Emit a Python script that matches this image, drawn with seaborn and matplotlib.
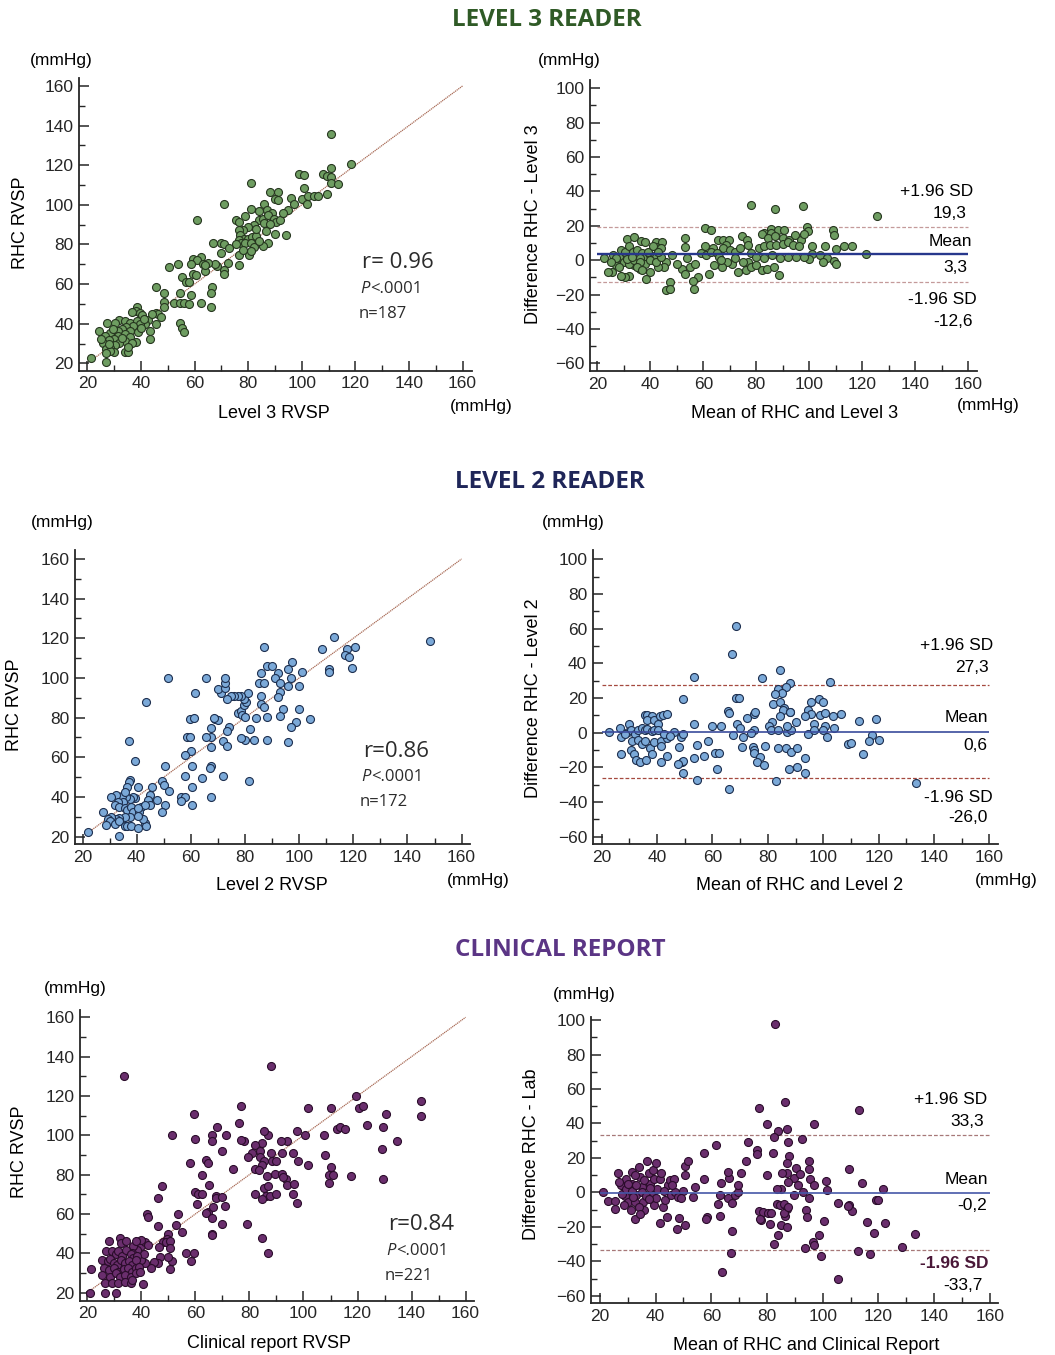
import matplotlib
matplotlib.use('Agg')
import matplotlib.pyplot as plt
from matplotlib.ticker import MultipleLocator
import seaborn as sns

# ---------------- data ----------------
# Level 3 reader vs RHC
l3_x = [111, 118.5, 111, 99, 101, 108, 109.5, 111, 111, 113.5, 81, 101, 88, 91, 90, 91, 96, 100, 102.5, 104.5,
        106, 109.5, 102, 97, 95, 86, 81, 87, 89, 84, 71, 61, 75.5, 76.5, 79, 84, 85.5, 87.5, 89.5, 90.5,
        92, 86, 88, 82, 80, 78, 76.5, 77, 78.5, 80, 81.5, 83, 76.5, 77.5, 79, 81, 75.5, 82, 80.5, 81,
        90, 94, 87.5, 85.5, 70, 71, 67, 70, 76.5, 76.5, 72.5, 71, 71, 68.5, 67.5, 65, 62.5, 59.5, 61, 58.5,
        54, 50.5, 64, 63, 59.5, 60.5, 55.5, 57, 58, 66.5, 66, 66, 62.5, 58.5, 45.5, 48.5, 48.5, 48.5, 54.5, 52.5,
        54.5, 56, 58, 45.5, 46.5, 47.5, 42.5, 45.5, 54.5, 55.5, 56, 41.5, 43.5, 43.5, 38.5, 38, 36.5, 39.5, 40.5, 32,
        27.5, 30.5, 24.5, 34, 36, 38.5, 39.5, 37, 34.5, 33, 31.5, 28.5, 26.5, 36, 39, 34, 31.5, 30, 28, 26,
        36, 38, 34, 32, 30.5, 28.5, 27, 36.5, 34, 35, 30, 28.5, 27, 28, 27, 21.5, 25, 33, 35, 29.5,
        40, 41, 44, 64, 73, 83, 86.5, 93, 84, 78]
l3_rhc = [135.5, 120.5, 118.5, 115.5, 115, 115.5, 114.5, 114, 111, 110.5, 111, 108.5, 106.5, 106.5, 103, 102.5, 103.5, 103, 104.5, 104.5,
          104.5, 105.5, 100.5, 100.5, 97.5, 100.5, 98, 97.5, 96, 97, 100.5, 92.5, 92.5, 91.5, 94.5, 92.5, 93, 95, 93, 91.5,
          92.5, 91, 90.5, 90, 89, 87.5, 87.5, 85, 83, 83, 84, 84.5, 82.5, 80.5, 80.5, 80.5, 80, 78.5, 74.5, 76.5,
          85.5, 85, 80.5, 79, 80.5, 80, 80.5, 75.5, 74.5, 69.5, 70.5, 67, 65, 69, 70, 70.5, 73.5, 72.5, 72, 70,
          70, 68.5, 66.5, 70, 65, 64.5, 63.5, 61, 61, 58.5, 55.5, 48.5, 50.5, 54.5, 58.5, 55.5, 51, 48.5, 55.5, 50.5,
          50.5, 50.5, 50, 45.5, 45, 43.5, 42, 40, 40.5, 38, 36, 40, 36.5, 32.5, 48.5, 46.5, 46, 45.5, 44.5, 42,
          40.5, 40.5, 36.5, 41.5, 40.5, 41.5, 40, 39, 38.5, 37.5, 36.5, 35.5, 34, 36.5, 36, 35, 34, 32.5, 32, 30.5,
          33.5, 31, 31.5, 30.5, 29.5, 28, 27, 30.5, 25.5, 25.5, 25.5, 26, 25, 30, 20.5, 22.5, 32.5, 33, 28.5, 37.5,
          38, 42.5, 45, 69.5, 78, 88, 87, 96, 82, 77]

# Bland-Altman, level 3
ba3_mean = [78, 87, 97.5, 125.5, 60.5, 63, 85.5, 88, 90.5, 99, 99.5, 109, 109.5, 83, 85.5, 82, 84.5, 87, 90, 92.5,
            94.5, 97, 98, 74.5, 76.5, 53, 53, 31, 34, 36.5, 38, 42, 44.5, 42, 44, 60.5, 63.5, 65.5, 67.5, 69.5,
            68.5, 67.5, 70, 72, 74, 77, 78, 81, 83, 85, 87.5, 90, 92, 94, 96, 101, 106, 113, 116, 110,
            101, 104, 106.5, 109.5, 110, 105, 100, 98, 121.5, 95, 92, 89, 86, 83, 80, 77, 75, 73, 76, 78,
            80, 82, 84, 86.5, 88.5, 71, 69, 67, 64, 62, 58, 56, 56.5, 55, 52, 53, 50, 48, 46, 45,
            47.5, 46, 47.5, 43, 41, 40, 38.5, 36, 34, 32, 30.5, 29, 27, 25.5, 24, 22.5, 26, 28, 29, 30.5,
            32, 33.5, 35, 37, 38.5, 40, 42, 30, 32, 34, 36, 38, 40, 42, 44, 36, 28, 31, 33, 35,
            37, 39, 41, 43, 27, 25, 54, 59, 61, 63, 65, 66, 57, 66.5, 72]
ba3_diff = [32, 30, 31.5, 25.5, 18.5, 17.5, 18, 17.5, 17.5, 19.5, 17, 17.5, 14.5, 16, 16, 15, 13, 14, 13, 12,
            14.5, 12, 15, 14, 11.5, 13, 7.5, 12.5, 13.5, 11, 10.5, 10.5, 10.5, 7.5, 7, 8.5, 7, 12, 12, 11.5,
            9, 7, 6, 5, 7, 9, 4, 7, 8, 9, 9, 9.5, 10.5, 9, 8, 8, 8.5, 8.5, 8.5, 6.5,
            3.5, 3, 1, -0.5, -2, -1, 0.5, 2, 3.5, 2, 2, 1, 3, 1, 2, -1, -1, -7, -6, -4,
            -3, -6, -5, -4, -8.5, -2, -1, -4, -3, -8, -10, -12, -17, -4, -5, -8, -2, 3, -1, -4,
            -12.5, -17.5, -17, -4, 0, -7, -11, -5, -3, -9, -10, -9, -3, -7, -7, 1, 3, 2, 6, 4.5,
            8, 5, 6, 4, 2, 3, 2, -1, -2, 0, 1, -2, 0, -1, 2, -1, -4, 0.5, 2, -4,
            -6, 5, 8, 5, 1, -1, 1, 4, 3, 5, 4, 2, -2, 0, 1]

# Level 2 reader vs RHC
l2_x = [148.5, 113, 108.5, 117.5, 120.5, 117, 118.5, 119.5, 111, 111, 87, 88, 90, 97.5, 96, 101, 86, 92, 91, 97,
        85, 87, 93, 96, 100, 93, 92, 86, 86, 87, 94, 100, 88, 93, 99, 104, 97, 96, 88, 83.5,
        80, 78.5, 82, 84, 77.5, 78.5, 79, 80, 79.5, 80.5, 79.5, 81, 78.5, 77.5, 76, 75, 73.5, 71, 70, 72.5,
        72.5, 72.5, 65.5, 61.5, 51.5, 43.5, 69, 70, 68.5, 59.5, 61, 67.5, 74, 73.5, 72, 73.5, 67.5, 67.5, 65.5, 58.5,
        59.5, 60, 58, 37, 39.5, 50.5, 60.5, 67.5, 67, 72, 64, 58, 81.5, 60.5, 49.5, 50, 52, 45.5, 40.5, 37.5,
        37, 36.5, 67.5, 56.5, 58, 56.5, 60.5, 50.5, 49.5, 47.5, 45, 44, 45, 39.5, 38.5, 37.5, 36, 34.5, 32.5, 30.5,
        35.5, 35, 33, 32, 33.5, 35.5, 36.5, 38, 38.5, 37.5, 35.5, 33.5, 32.5, 30.5, 29.5, 27.5, 30, 28.5, 32, 33.5,
        35.5, 36.5, 38, 40.5, 43, 43.5, 42.5, 41.5, 43, 41, 40.5, 40.5, 22, 33.5]
l2_rhc = [118.5, 120.5, 114.5, 114.5, 115.5, 111.5, 110.5, 105, 104.5, 103, 115.5, 106, 106, 108, 104.5, 103, 102.5, 102.5, 100, 100,
          97.5, 97.5, 97.5, 96, 96, 93, 90.5, 91, 87, 85.5, 84.5, 84.5, 80.5, 81, 78, 79.5, 75.5, 67.5, 68.5, 68.5,
          68.5, 69.5, 74.5, 80, 82.5, 83.5, 81.5, 80.5, 86.5, 88, 89.5, 92.5, 91, 91, 91, 91, 89.5, 92.5, 94.5, 95,
          97.5, 100, 100, 92.5, 100, 88, 79.5, 79, 80, 79.5, 80, 75, 75.5, 73.5, 68, 65.5, 65, 70, 70, 70,
          70, 63, 61, 68, 58, 55.5, 55.5, 55.5, 54.5, 50.5, 49.5, 50.5, 48, 45, 48, 46, 43, 45, 45, 48.5,
          47.5, 45, 40, 40, 40, 38, 36, 36, 32.5, 38.5, 41, 38.5, 36, 39.5, 40, 39, 40, 40.5, 41, 40,
          42.5, 37.5, 37.5, 36, 35, 34.5, 33.5, 35, 32.5, 30, 30, 29.5, 29, 30, 29, 32.5, 28, 26, 26.5, 28,
          25.5, 25.5, 25.5, 24.5, 27, 25.5, 29, 35, 36, 32.5, 34.5, 30.5, 22.5, 20.5]

# Bland-Altman, level 2
ba2_mean = [68.5, 67, 53.5, 84.5, 78, 102.5, 88, 86.5, 83.5, 85, 82.5, 49.5, 68.5, 69.5, 98.5, 100, 95.5, 82, 84.5, 86,
            85.5, 88, 84.5, 94.5, 95.5, 93.5, 99, 100.5, 103.5, 106.5, 96.5, 100.5, 104, 113, 119, 117.5, 116.5, 120, 109, 110,
            114.5, 133.5, 65.5, 66, 75, 75.5, 72.5, 69, 70, 60, 63, 53.5, 81.5, 80.5, 81, 83.5, 75, 74, 87, 88.5,
            90, 87, 88, 94.5, 96.5, 100, 101.5, 67.5, 71, 70.5, 74.5, 75, 75, 77, 79, 76, 78.5, 83, 66, 54.5,
            49.5, 61.5, 49, 49.5, 47.5, 53.5, 57, 61, 62.5, 54.5, 58.5, 48, 48.5, 49.5, 46, 86.5, 88.5, 90.5, 93.5, 90.5,
            87.5, 93.5, 83.5, 22.5, 27, 27, 30, 35.5, 36.5, 38, 36.5, 39, 41, 42, 43.5, 40.5, 29.5, 30.5, 32, 33,
            34.5, 35.5, 36.5, 38, 39, 40.5, 31, 33, 34.5, 35.5, 37.5, 39, 41.5, 41.5, 43.5, 30.5, 31.5, 32.5, 34, 36,
            38, 41.5, 43.5, 42.5, 44.5, 28.5, 26.5]
ba2_diff = [61.5, 45.5, 32, 36, 31.5, 29, 28.5, 26.5, 25.5, 23, 22.5, 19.5, 20, 20, 19.5, 17.5, 17.5, 16.5, 17.5, 14,
            13, 12, 9.5, 13, 11, 9.5, 10.5, 11.5, 9.5, 11, 5, 4, 3, 7, 8, -1.5, -4.5, -4, -6.5, -6,
            -12.5, -29, 12.5, 11.5, 11, 12, 8.5, 5, 2.5, 4, 4, 5, 6, 4, 1.5, 1.5, 1.5, 0, 0.5, 1.5,
            6, 4, 12, -0.5, 1.5, 1.5, -2.5, -1.5, -2.5, -8, -8.5, -10, -11.5, -14, -7.5, -17, -18.5, -28, -32.5, -27,
            -23.5, -21, -17, -16.5, -18, -14.5, -13.5, -11.5, -11.5, -7, -4.5, -8, -2.5, -0.5, 0.5, -9, -11, -9, -14.5, -20,
            -21, -23.5, -9, 0.5, -2.5, -12.5, 5, 10.5, 10, 9.5, 7.5, 7.5, 9.5, 10.5, 11, 5, 0.5, 1.5, -0.5, 1.5,
            2.5, 1.5, 2, 1, 1.5, 1.5, -4.5, -4, -6.5, -4.5, -9, -5.5, -4.5, -7.5, -3, -10, -12, -16, -17, -16,
            -12, -17, -13.5, -0.5, -2, -1, 3]

# Clinical report vs RHC
cr_x = [33.5, 88, 143.5, 143.5, 119.5, 120.5, 122, 130.5, 123.5, 129.5, 134.5, 129, 129.5, 117.5, 109.5, 109.5, 111, 110, 108, 107.5,
        112.5, 113.5, 115.5, 110, 100.5, 101.5, 97.5, 98, 101.5, 96, 92, 94, 91.5, 87, 85.5, 84.5, 82, 81, 79.5, 84,
        84, 85.5, 84.5, 82, 83.5, 88, 88.5, 90, 86.5, 89.5, 92, 93.5, 92.5, 94, 96.5, 96, 97.5, 85.5, 87, 86,
        87.5, 84.5, 82, 90, 76, 77, 78, 77, 74, 70, 71.5, 68, 66, 66, 64, 64.5, 62.5, 65, 59.5, 60,
        58, 51.5, 47.5, 46, 42, 42.5, 46, 60, 61, 62.5, 60.5, 64.5, 64, 67.5, 67.5, 70, 71, 66, 66.5, 70,
        66, 66, 79, 84.5, 87, 53.5, 53, 55, 50, 49.5, 48, 46.5, 49, 50.5, 50.5, 56.5, 59.5, 58.5, 51.5, 50.5,
        50, 47, 46, 44.5, 43.5, 41.5, 40, 41, 40, 41.5, 40, 42.5, 38.5, 37, 38, 36.5, 21.5, 21, 26.5, 30.5,
        28, 32, 32.5, 34.5, 27, 29, 30.5, 31.5, 33, 34.5, 36, 37, 38.5, 25.5, 27.5, 28.5, 30, 31, 32.5, 34,
        35.5, 36.5, 38, 26, 28, 30, 31.5, 33.5, 35, 36.5, 38, 39, 25.5, 28.5, 30.5, 32, 34, 36, 38, 39.5,
        26.5, 29, 31.5, 34, 36, 36.5, 40.5]
cr_rhc = [130, 135, 117.5, 110, 120, 114, 115, 111, 105, 104, 97, 93, 78, 79.5, 75.5, 80, 80, 84, 90, 100,
          103, 104, 103, 114, 100, 114, 102, 87, 85, 91, 91, 97, 97, 100, 102, 96, 95, 91, 89, 92,
          89, 87, 85, 83, 82.5, 91, 87, 87, 79.5, 80.5, 80.5, 78, 79, 74.5, 75, 70, 65.5, 73, 74, 69,
          69, 67.5, 70, 70, 106, 115, 97, 97.5, 83, 92, 100, 104, 100, 97, 87.5, 86, 80, 74.5, 111, 98,
          86, 100, 74, 68, 60, 58.5, 54, 71, 70, 70, 65, 61, 60.5, 69, 68, 68.5, 64, 58, 63.5, 55,
          50, 49.5, 55, 48, 40, 60, 54.5, 51, 50, 47.5, 45.5, 43, 45.5, 46, 42.5, 40, 40, 36, 36, 32,
          38, 38, 35, 35.5, 32.5, 35, 36.5, 39.5, 43.5, 45.5, 47, 44, 41.5, 43.5, 46, 40, 32, 20, 20, 20,
          46, 48, 45, 46, 41, 41, 39.5, 41, 38.5, 41.5, 39.5, 37.5, 38.5, 36.5, 36, 37, 35, 34, 36.5, 35,
          36, 34, 36.5, 32.5, 31.5, 32.5, 30.5, 32, 32.5, 30.5, 32.5, 33, 29, 28, 30, 28, 29, 28, 30, 30.5,
          25, 25, 25, 25.5, 25, 26.5, 24.5]

# Bland-Altman, clinical report
bac_mean = [83, 77, 86.5, 113, 80, 97, 84, 87, 82.5, 87.5, 92.5, 76.5, 76.5, 82, 73, 61.5, 57.5, 72.5, 88, 87,
            95, 95, 90.5, 89.5, 87, 85.5, 80, 92, 91, 87.5, 85, 83.5, 95.5, 97, 101, 101.5, 109.5, 114, 121.5, 93,
            95, 89.5, 83.5, 84.5, 86, 87, 86.5, 86, 87.5, 77, 78.5, 80.5, 81.5, 78, 77.5, 81, 85, 87, 84, 82.5,
            94, 94.5, 100.5, 98.5, 96.5, 97, 93.5, 99.5, 105.5, 109.5, 110.5, 109, 116, 118.5, 122.5, 119, 120, 112.5, 117, 128.5,
            133, 105.5, 64, 67, 67.5, 63, 58.5, 58, 62.5, 63, 66, 67.5, 68.5, 69.5, 69.5, 66.5, 66, 63.5, 70.5, 57.5,
            54, 53.5, 50.5, 51.5, 50.5, 50, 48.5, 50.5, 47.5, 21, 23, 25.5, 26.5, 27.5, 29, 29.5, 30, 31, 31.5, 31.5,
            32.5, 33, 34, 34.5, 35, 35.5, 36, 37, 37.5, 38, 38.5, 39, 39.5, 39.5, 40, 40.5, 41.5, 42, 42.5, 43.5,
            44, 44.5, 45, 45.5, 46.5, 47, 48, 49, 41.5, 28, 29.5, 31.5, 32.5, 34, 35, 36, 32.5, 30, 28.5, 32,
            34.5, 25.5, 27, 33, 36.5, 38, 40, 43, 46, 37.5]
bac_diff = [97.5, 49, 52.5, 48, 39.5, 39.5, 35.5, 37, 32, 29, 31, 24.5, 22, 23, 29, 27.5, 23, 18, 21, 17,
            18, 13.5, 14, 8.5, 11, 11, 10, 10.5, 4, 6, 2, 2, 7.5, 4, 6.5, 1.5, 13.5, 5.5, 2, 0,
            -3.5, -1.5, -6.5, -7.5, -6.5, -9.5, -13.5, -12, -8.5, -11, -11.5, -12, -12, -16, -15.5, -18.5, -19, -20, -24.5, -30,
            -10, -14.5, -16.5, -24.5, -29, -30.5, -32.5, -37, -6, -7.5, -11, -8, -17, -23.5, -18, -4.5, -4.5, -34, -36, -31.5,
            -24, -50, -46, -35, -22.5, -13.5, -14.5, -15.5, -7, -1.5, -3.5, -6, -1.5, 0, 4, 8.5, 12, 5.5, 11, 7.5,
            3, -2.5, 15.5, 18.5, 10, 1, -15, -19, -21.5, 0, -5, -9.5, 11.5, 4, -2, 7.5, -5.5, -10.5, 12, 5,
            -15.5, -1.5, 14.5, 9, 3, -5.5, -10, 18.5, 11, 5, -1, 13, -7.5, 8, 17, 2, 8, 11, -8.5, -4.5,
            -14.5, 4, 7, -1.5, 8, 0, -2.5, -3.5, -18, -1, 2, 1, -5.5, -8.5, 0, 7, 10, 5, -7.5, -2.5,
            -12.5, -5, 6, 4, -2, 2.5, -3, 1, 4.5, -4]

# agreement statistics printed on the Bland-Altman plots
ba3_stats = {'mean': 3.3, 'upper': 19.3, 'lower': -12.6}
ba2_stats = {'mean': 0.6, 'upper': 27.3, 'lower': -26.0}
bac_stats = {'mean': -0.2, 'upper': 33.3, 'lower': -33.7}
line_span = [20, 160]
identity = [21, 160]

# ---------------- styling ----------------
sns.set_style('ticks')
plt.rcParams['font.family'] = ['Liberation Sans', 'DejaVu Sans']

W, H = 1055, 1355
fig = plt.figure(figsize=(W / 100, H / 100), dpi=100)


def rect(left, top, right, bottom):
    return [left / W, 1 - bottom / H, (right - left) / W, (bottom - top) / H]


def ftext(x, y, s, **kw):
    kw.setdefault('fontsize', 12.5)
    kw.setdefault('color', 'black')
    fig.text(x / W, 1 - y / H, s, **kw)


def style_axes(ax, xlim, ylim):
    ax.set_xlim(*xlim)
    ax.set_ylim(*ylim)
    ax.xaxis.set_major_locator(MultipleLocator(20))
    ax.yaxis.set_major_locator(MultipleLocator(20))
    ax.xaxis.set_minor_locator(MultipleLocator(10))
    ax.yaxis.set_minor_locator(MultipleLocator(10))
    ax.tick_params(which='major', direction='in', length=7, width=1.1, labelsize=12.5, pad=4)
    ax.tick_params(which='minor', direction='in', length=4, width=1.0)
    for side in ['top', 'right']:
        ax.spines[side].set_visible(False)
    for side in ['left', 'bottom']:
        ax.spines[side].set_linewidth(1.3)
    ax.set_xlabel('')
    ax.set_ylabel('')


def scatter_panel(r, lims, x, y, fill, edge):
    ax = fig.add_axes(rect(*r))
    ax.plot(identity, identity, color='#a86a55', lw=0.9, ls=(0, (1, 0.6)), zorder=1)
    sns.scatterplot(x=x, y=y, ax=ax, s=33, color=fill, edgecolor=edge, linewidth=0.8,
                    legend=False, zorder=3)
    style_axes(ax, lims[0], lims[1])
    return ax


def ba_panel(r, lims, x, y, fill, edge, stats, mean_color, mean_lw, sd_color):
    ax = fig.add_axes(rect(*r))
    ax.hlines([stats['upper'], stats['lower']], *line_span, colors=sd_color, lw=0.9,
              linestyles=(0, (3, 1.6)), zorder=1)
    sns.scatterplot(x=x, y=y, ax=ax, s=33, color=fill, edgecolor=edge, linewidth=0.8,
                    legend=False, zorder=3)
    ax.hlines(stats['mean'], *line_span, colors=mean_color, lw=mean_lw, zorder=4)
    style_axes(ax, lims[0], lims[1])
    return ax


green, green_edge = '#6e9d61', '#26361f'
blue, blue_edge = '#7ba9d8', '#1d2f4f'
purple, purple_edge = '#6a2e6d', '#2a0c2a'
title_font = ['Liberation Sans Narrow', 'Open Sans', 'DejaVu Sans']

# ---------------- row 1: level 3 ----------------
ftext(547, 20, 'LEVEL 3 READER', fontsize=17.5, fontweight='bold', color='#2f5a26',
      ha='center', va='center', family=title_font)
scatter_panel((79, 78, 471.7, 370.7), ((16.9, 163.4), (16.3, 164)), l3_x, l3_rhc, green, green_edge)
ba_panel((590, 80, 976.7, 371), ((17.2, 163.2), (-64.5, 104.8)), ba3_mean, ba3_diff, green, green_edge,
         ba3_stats, '#27378c', 1.7, '#c49a9a')

# ---------------- row 2: level 2 ----------------
ftext(550, 482, 'LEVEL 2 READER', fontsize=17.5, fontweight='bold', color='#1f2659',
      ha='center', va='center', family=title_font)
scatter_panel((75, 550, 470, 844), ((17.2, 163.1), (16.3, 164.5)), l2_x, l2_rhc, blue, blue_edge)
ba_panel((592.7, 550, 998, 844), ((16.75, 163.1), (-64.2, 105.4)), ba2_mean, ba2_diff, blue, blue_edge,
         ba2_stats, '#3a4b9c', 1.2, '#a5493f')

# ---------------- row 3: clinical report ----------------
ftext(560, 950, 'CLINICAL REPORT', fontsize=17.5, fontweight='bold', color='#5b3585',
      ha='center', va='center', family=title_font)
scatter_panel((80, 1010, 474, 1300.7), ((17.3, 163.1), (15.9, 163.7)), cr_x, cr_rhc, purple, purple_edge)
ba_panel((590.7, 1017, 998.3, 1303), ((16.7, 163.0), (-64.2, 101.8)), bac_mean, bac_diff, purple, purple_edge,
         bac_stats, '#4657a8', 1.2, '#a77878')

# ---------------- axis texts ----------------
ftext(61, 61, '(mmHg)', ha='center', va='center')
ftext(569, 61, '(mmHg)', ha='center', va='center')
ftext(481, 407, '(mmHg)', ha='center', va='center')
ftext(988, 406, '(mmHg)', ha='center', va='center')
ftext(62, 522, '(mmHg)', ha='center', va='center')
ftext(573, 523, '(mmHg)', ha='center', va='center')
ftext(478, 881, '(mmHg)', ha='center', va='center')
ftext(1006, 880, '(mmHg)', ha='center', va='center')
ftext(75, 988, '(mmHg)', ha='center', va='center')
ftext(584, 995, '(mmHg)', ha='center', va='center')

ftext(274, 413, 'Level 3 RVSP', ha='center', va='center', fontsize=13)
ftext(795, 413, 'Mean of RHC and Level 3', ha='center', va='center', fontsize=13)
ftext(272, 885, 'Level 2 RVSP', ha='center', va='center', fontsize=13)
ftext(800, 886, 'Mean of RHC and Level 2', ha='center', va='center', fontsize=13)
ftext(269, 1343, 'Clinical report RVSP', ha='center', va='center', fontsize=13)
ftext(806, 1345, 'Mean of RHC and Clinical Report', ha='center', va='center', fontsize=13)

ftext(21, 223, 'RHC RVSP', ha='center', va='center', rotation=90, fontsize=13)
ftext(533, 224, 'Difference RHC - Level 3', ha='center', va='center', rotation=90, fontsize=13)
ftext(15, 705, 'RHC RVSP', ha='center', va='center', rotation=90, fontsize=13)
ftext(534, 698, 'Difference RHC - Level 2', ha='center', va='center', rotation=90, fontsize=13)
ftext(20, 1152, 'RHC RVSP', ha='center', va='center', rotation=90, fontsize=13)
ftext(532, 1154, 'Difference RHC - Lab', ha='center', va='center', rotation=90, fontsize=13)

# correlation boxes
stat_font = ['Open Sans', 'DejaVu Sans']
for (xr, yr, rtxt, ntxt) in [(362, 263, 'r= 0.96', 'n=187'),
                             (363, 751, 'r=0.86', 'n=172'),
                             (388, 1225, 'r=0.84', 'n=221')]:
    ftext(xr, yr, rtxt, fontsize=16, family=stat_font, color='#2b2b2b', ha='left', va='center')
    ftext(xr - 2, yr + 26, 'P', fontsize=12, family=stat_font, style='italic', color='#2b2b2b',
          ha='left', va='center')
    ftext(xr + 8, yr + 26, '<.0001', fontsize=12, family=stat_font, color='#2b2b2b', ha='left', va='center')
    ftext(xr - 3, yr + 51, ntxt, fontsize=12, family=stat_font, color='#2b2b2b', ha='left', va='center')

# Bland-Altman labels
ba_labels = [
    (973, 192, '+1.96 SD'), (967, 213, '19,3'), (972, 242, 'Mean'), (967, 268, '3,3'),
    (977, 300, '-1.96 SD'), (973, 322, '-12,6'),
    (993, 646, '+1.96 SD'), (989, 668, '27,3'), (988, 717, 'Mean'), (987, 745, '0,6'),
    (993, 797, '-1.96 SD'), (988, 818, '-26,0'),
    (987, 1100, '+1.96 SD'), (984, 1122, '33,3'), (988, 1179, 'Mean'), (987, 1205, '-0,2'),
    (983, 1285, '-33,7'),
]
for x, y, s in ba_labels:
    ftext(x, y, s, ha='right', va='center')
ftext(988, 1263, '-1.96 SD', ha='right', va='center', fontweight='bold', color='#4a1838')

fig.savefig('out.png', dpi=100)
